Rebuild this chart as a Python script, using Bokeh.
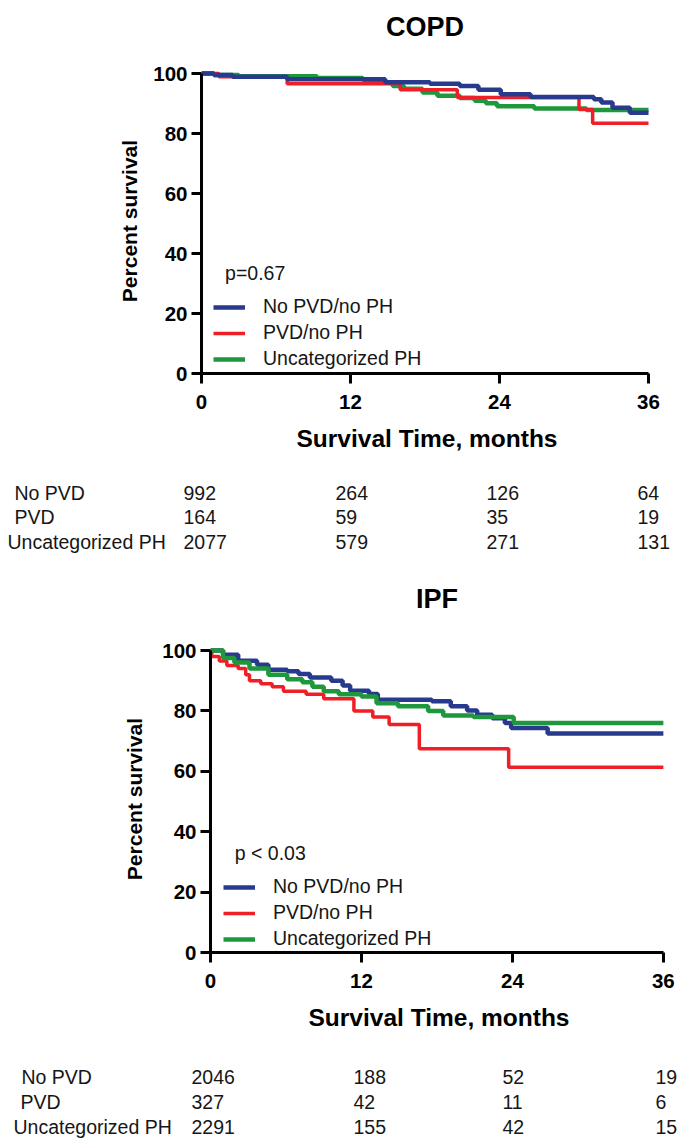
from bokeh.plotting import figure
from bokeh.models import Range1d, FixedTicker, Legend, LegendItem, Label, ColumnDataSource
from bokeh.core.properties import value
from bokeh.embed import file_html
from bokeh.resources import INLINE

# ---------------- DATA ----------------
group_labels = ["No PVD/no PH", "PVD/no PH", "Uncategorized PH"]
risk_row_labels = ["No PVD", "PVD", "Uncategorized PH"]
risk_times = [0, 12, 24, 36]
x_ticks = [0, 12, 24, 36]
y_ticks = [0, 20, 40, 60, 80, 100]
panel_titles = ["COPD", "IPF"]

# COPD Kaplan-Meier steps (months, percent survival)
copd_t_nopvd = [0, 1.0, 2.5, 6.9, 14.8, 18.4, 20.8, 22.3, 24.1, 26.5, 31.6, 32.2, 33.1, 34.5, 36]
copd_s_nopvd = [100, 99.5, 98.9, 98.1, 97.1, 96.6, 95.8, 94.6, 93.1, 92.2, 91.4, 90.3, 88.6, 86.9, 86.9]
copd_t_pvd = [0, 1.4, 6.9, 16.0, 20.6, 30.4, 31.5, 36]
copd_s_pvd = [100, 98.9, 96.6, 94.6, 92.0, 88.0, 83.4, 83.4]
copd_t_uph = [0, 1.0, 3.0, 9.3, 13.0, 14.2, 15.4, 16.3, 17.8, 19.0, 20.8, 22.0, 22.9, 23.8, 26.8, 31.0, 36]
copd_s_uph = [100, 99.5, 99.1, 98.5, 97.9, 97.1, 95.8, 94.9, 93.7, 92.6, 91.8, 90.9, 90.1, 89.1, 88.3, 87.8, 87.8]
copd_p_text = "p=0.67"
copd_risk_nopvd = [992, 264, 126, 64]
copd_risk_pvd = [164, 59, 35, 19]
copd_risk_uph = [2077, 579, 271, 131]

# IPF Kaplan-Meier steps
ipf_t_nopvd = [0, 1.0, 2.2, 3.7, 4.6, 6.1, 7.0, 7.9, 9.6, 10.5, 11.1, 12.6, 13.3, 17.6, 19.1, 20.4, 21.2, 22.4, 23.4, 23.9, 26.8, 36]
ipf_s_nopvd = [100, 98.6, 96.6, 95.3, 93.6, 93.1, 92.2, 91.1, 90.0, 88.4, 86.7, 85.6, 83.7, 83.2, 81.5, 80.1, 78.7, 77.6, 76.0, 74.3, 72.5, 72.5]
ipf_t_pvd = [0, 0.1, 0.7, 1.3, 2.2, 2.8, 3.1, 4.0, 4.9, 5.8, 7.6, 9.0, 11.4, 12.9, 14.2, 16.6, 23.7, 36]
ipf_s_pvd = [100, 98.0, 96.5, 95.0, 94.0, 92.0, 90.0, 89.0, 88.0, 86.5, 85.5, 84.0, 80.0, 78.0, 75.5, 67.5, 61.3, 61.3]
ipf_t_uph = [0, 1.0, 1.9, 3.1, 4.6, 6.1, 7.3, 8.1, 9.0, 10.2, 12.0, 13.2, 14.9, 17.3, 18.5, 20.9, 24.1, 36]
ipf_s_uph = [100, 97.5, 96.0, 94.0, 92.0, 90.5, 89.5, 88.0, 86.5, 85.5, 84.8, 82.5, 81.5, 80.0, 78.5, 78.0, 76.0, 76.0]
ipf_p_text = "p < 0.03"
ipf_risk_nopvd = [2046, 188, 52, 19]
ipf_risk_pvd = [327, 42, 11, 6]
ipf_risk_uph = [2291, 155, 42, 15]

# ---------------- STYLE ----------------
BLUE = "#283a8e"
RED = "#ee1f26"
GREEN = "#1f973d"
FONT = "Liberation Sans"
TXT = "#161616"
W = 686
TXT_SIZE = "19.5px"


def blank_fig(h, axis_x, ppm, y_range):
    # a strip whose months line up with the plot's time axis
    x0 = -axis_x / ppm
    x1 = x0 + W / ppm
    p = figure(width=W, height=h, x_range=Range1d(x0, x1), y_range=y_range,
               x_axis_type=None, y_axis_type=None, min_border=0,
               output_backend="svg", toolbar_location=None)
    p.outline_line_color = None
    p.background_fill_color = "white"
    p.border_fill_color = "white"
    return p


def title_strip(title, g):
    p = blank_fig(g["h"], g["axis_x"], g["ppm"], Range1d(g["h"], 0))
    p.text(x=[18], y=[g["center"]], text=[title], text_font=value(FONT), text_font_size="27px",
           text_font_style="bold", text_color="black", text_align="center", text_baseline="middle")
    return p


def km_plot(curves, order, p_text, g):
    x_end = g["frame_w"] / g["ppm"]
    y_end = g["frame_h"] / g["ppu"]
    p = figure(width=W, height=g["h"], x_range=Range1d(0, x_end), y_range=Range1d(0, y_end),
               min_border_left=g["left"], min_border_right=W - g["left"] - g["frame_w"],
               min_border_top=g["top"], min_border_bottom=g["h"] - g["top"] - g["frame_h"],
               output_backend="svg", toolbar_location=None)
    p.outline_line_color = None
    p.grid.visible = False
    p.background_fill_color = "white"
    p.border_fill_color = "white"

    for ax in (p.xaxis[0], p.yaxis[0]):
        ax.axis_line_width = 3
        ax.axis_line_color = "black"
        ax.major_tick_line_width = 3
        ax.major_tick_line_color = "black"
        ax.major_tick_out = 10
        ax.major_tick_in = 0
        ax.minor_tick_line_color = None
        ax.major_label_text_font = FONT
        ax.major_label_text_font_size = "20.5px"
        ax.major_label_text_font_style = "bold"
        ax.major_label_text_color = "black"
        ax.axis_label_text_font = FONT
        ax.axis_label_text_font_style = "bold"
        ax.axis_label_text_color = "black"
    p.xaxis[0].ticker = FixedTicker(ticks=x_ticks)
    p.yaxis[0].ticker = FixedTicker(ticks=y_ticks)
    p.xaxis[0].bounds = (0, 36)
    p.yaxis[0].bounds = (0, 100)
    p.xaxis[0].axis_label = "Survival Time, months"
    p.xaxis[0].axis_label_text_font_size = "24.5px"
    p.xaxis[0].major_label_standoff = 11
    p.xaxis[0].axis_label_standoff = 13
    p.yaxis[0].axis_label = "Percent survival"
    p.yaxis[0].axis_label_text_font_size = "21px"
    p.yaxis[0].major_label_standoff = 4
    p.yaxis[0].axis_label_standoff = g["ytitle_standoff"]

    renderers = {}
    for key in order:
        t, s, color, lw = curves[key]
        renderers[key] = p.step(x=t, y=s, mode="after", line_color=color, line_width=lw)

    items = [LegendItem(label=group_labels[i], renderers=[renderers[k]])
             for i, k in enumerate(["nopvd", "pvd", "uph"])]
    leg = Legend(items=items, location=g["leg_loc"], padding=0, margin=0,
                 spacing=g["leg_spacing"], glyph_width=32, glyph_height=18, label_height=18,
                 label_standoff=18, label_text_font=FONT, label_text_font_size=TXT_SIZE,
                 label_text_color=TXT, border_line_color=None, background_fill_alpha=0)
    p.add_layout(leg)
    p.add_layout(Label(x=g["p_pos"][0], y=g["p_pos"][1], text=p_text, text_font=FONT,
                       text_font_size=TXT_SIZE, text_color=TXT, text_baseline="middle"))
    return p


def risk_table(rows, g):
    top = -g["row0"] / g["row_px"]
    bottom = top + g["h"] / g["row_px"]
    p = blank_fig(g["h"], g["axis_x"], g["ppm"], Range1d(bottom, top))

    lab_x = [(px - g["axis_x"]) / g["ppm"] for px in g["label_x"]]
    src_lab = ColumnDataSource(dict(x=lab_x, y=list(range(len(risk_row_labels))), t=risk_row_labels))
    p.text(x="x", y="y", text="t", source=src_lab, text_font=value(FONT), text_font_size=TXT_SIZE,
           text_color=TXT, text_baseline="middle", text_align="left")

    xs, ys, ts, offs = [], [], [], []
    for r, vals in enumerate(rows):
        for c, v in enumerate(vals):
            xs.append(risk_times[c])
            ys.append(r)
            ts.append(str(v))
            offs.append(g["col_off"][c])
    src = ColumnDataSource(dict(x=xs, y=ys, t=ts, o=offs))
    p.text(x="x", y="y", text="t", x_offset="o", source=src, text_font=value(FONT),
           text_font_size=TXT_SIZE, text_color=TXT, text_baseline="middle", text_align="left")
    return p


copd_geom = dict(h=418, left=201, frame_w=451, ppm=12.417, top=18, frame_h=305, ppu=3.0,
                 leg_loc=(12, 3), leg_spacing=3, p_pos=(1.9, 33.6), ytitle_standoff=9)
ipf_geom = dict(h=420, left=210, frame_w=457, ppm=12.58, top=20, frame_h=307, ppu=3.02,
                leg_loc=(13, 2), leg_spacing=3, p_pos=(1.93, 32.9), ytitle_standoff=13)

copd_title = title_strip(panel_titles[0], dict(h=50, axis_x=201, ppm=12.417, center=26))
copd = km_plot({"nopvd": (copd_t_nopvd, copd_s_nopvd, BLUE, 4.5),
                "pvd": (copd_t_pvd, copd_s_pvd, RED, 3.5),
                "uph": (copd_t_uph, copd_s_uph, GREEN, 4.5)},
               ["uph", "pvd", "nopvd"], copd_p_text, copd_geom)
copd_tab = risk_table([copd_risk_nopvd, copd_risk_pvd, copd_risk_uph],
                      dict(h=107, axis_x=201, ppm=12.417, row0=24, row_px=24.5,
                           label_x=[14, 14, 7], col_off=[-18, -15, -13, -11]))

ipf_title = title_strip(panel_titles[1], dict(h=50, axis_x=210, ppm=12.58, center=23))
ipf = km_plot({"nopvd": (ipf_t_nopvd, ipf_s_nopvd, BLUE, 4.5),
               "pvd": (ipf_t_pvd, ipf_s_pvd, RED, 3.5),
               "uph": (ipf_t_uph, ipf_s_uph, GREEN, 4.5)},
              ["pvd", "nopvd", "uph"], ipf_p_text, ipf_geom)
ipf_tab = risk_table([ipf_risk_nopvd, ipf_risk_pvd, ipf_risk_uph],
                     dict(h=98, axis_x=210, ppm=12.58, row0=31, row_px=25,
                          label_x=[21, 20, 13], col_off=[-19, -8, -10, -8]))

open("out.html", "w").write(file_html([copd_title, copd, copd_tab, ipf_title, ipf, ipf_tab], INLINE))
